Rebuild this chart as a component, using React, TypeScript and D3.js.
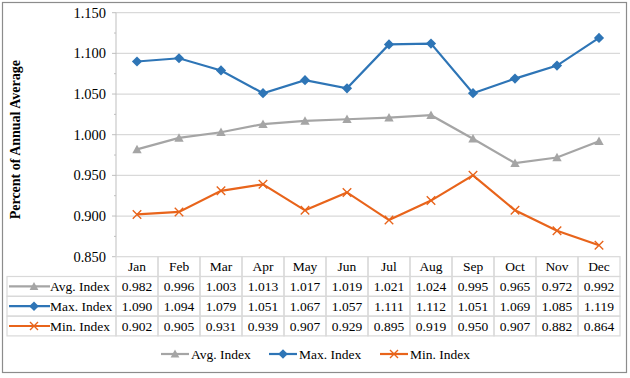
import { useEffect, useRef } from 'react';
import * as d3 from 'd3';

const months = ['Jan', 'Feb', 'Mar', 'Apr', 'May', 'Jun', 'Jul', 'Aug', 'Sep', 'Oct', 'Nov', 'Dec'];
const avgIndex = [0.982, 0.996, 1.003, 1.013, 1.017, 1.019, 1.021, 1.024, 0.995, 0.965, 0.972, 0.992];
const maxIndex = [1.090, 1.094, 1.079, 1.051, 1.067, 1.057, 1.111, 1.112, 1.051, 1.069, 1.085, 1.119];
const minIndex = [0.902, 0.905, 0.931, 0.939, 0.907, 0.929, 0.895, 0.919, 0.950, 0.907, 0.882, 0.864];
const yTicks = [0.85, 0.9, 0.95, 1.0, 1.05, 1.1, 1.15];

const seriesList = [
  { name: 'Avg. Index', values: avgIndex, color: '#A5A5A5', marker: 'triangle' },
  { name: 'Max. Index', values: maxIndex, color: '#2E75B6', marker: 'diamond' },
  { name: 'Min. Index', values: minIndex, color: '#E8641B', marker: 'x' },
];

const App = () => {
  const chartRef = useRef<HTMLDivElement>(null);

  useEffect(() => {
    document.body.style.margin = '0';
    if (!chartRef.current) return;
    d3.select(chartRef.current).selectAll('svg').remove();

    const W = 630;
    const H = 378;
    const plotLeft = 116;
    const plotRight = 620;
    const plotTop = 12.7;
    const plotBottom = 256.7;
    const rowH = 19.8;
    const tableLeft = 7;
    const font = 'Liberation Serif';

    const svg = d3.select(chartRef.current)
      .append('svg')
      .attr('width', W)
      .attr('height', H)
      .attr('font-family', font)
      .style('display', 'block');

    svg.append('rect').attr('width', W).attr('height', H).attr('fill', 'white');
    // outer frame
    svg.append('rect')
      .attr('x', 2.5).attr('y', 2.5)
      .attr('width', 624).attr('height', 370)
      .attr('fill', 'none')
      .attr('stroke', '#8c8c8c')
      .attr('stroke-width', 1.2);

    const x = d3.scaleBand().domain(months).range([plotLeft, plotRight]);
    const y = d3.scaleLinear().domain([0.85, 1.15]).range([plotBottom, plotTop]);
    const cx = (m: string) => (x(m) as number) + x.bandwidth() / 2;

    // gridlines
    svg.append('g')
      .selectAll('line')
      .data(yTicks.slice(1))
      .enter()
      .append('line')
      .attr('x1', plotLeft).attr('x2', plotRight)
      .attr('y1', d => y(d)).attr('y2', d => y(d))
      .attr('stroke', '#d9d9d9')
      .attr('stroke-width', 1.2);

    // y axis
    const axis = svg.append('g');
    axis.append('line')
      .attr('x1', plotLeft).attr('x2', plotLeft)
      .attr('y1', plotTop).attr('y2', plotBottom)
      .attr('stroke', '#bfbfbf');
    axis.selectAll('.major')
      .data(yTicks)
      .enter()
      .append('line')
      .attr('x1', plotLeft - 4).attr('x2', plotLeft)
      .attr('y1', d => y(d)).attr('y2', d => y(d))
      .attr('stroke', '#bfbfbf');
    axis.selectAll('.minor')
      .data(yTicks.slice(1).map(d => d - 0.025))
      .enter()
      .append('line')
      .attr('x1', plotLeft - 2).attr('x2', plotLeft)
      .attr('y1', d => y(d)).attr('y2', d => y(d))
      .attr('stroke', '#bfbfbf');
    axis.selectAll('text')
      .data(yTicks)
      .enter()
      .append('text')
      .attr('x', plotLeft - 10)
      .attr('y', d => y(d))
      .attr('dy', '0.35em')
      .attr('text-anchor', 'end')
      .attr('font-family', font)
      .attr('font-size', 14.5)
      .attr('fill', '#000')
      .text(d => d3.format('.3f')(d));

    // y axis title
    svg.append('text')
      .attr('transform', `translate(19.5, ${(plotTop + plotBottom) / 2 + 5}) rotate(-90)`)
      .attr('text-anchor', 'middle')
      .attr('font-family', font)
      .attr('font-size', 14)
      .attr('font-weight', 'bold')
      .text('Percent of Annual Average');

    const drawMarker = (g: any, type: string, px: number, py: number, color: string, s: number) => {
      if (type === 'triangle') {
        g.append('path')
          .attr('d', `M${px},${py - s * 0.55}L${px + s * 0.55},${py + s * 0.45}L${px - s * 0.55},${py + s * 0.45}Z`)
          .attr('fill', color);
      } else if (type === 'diamond') {
        g.append('path')
          .attr('d', `M${px},${py - s * 0.6}L${px + s * 0.6},${py}L${px},${py + s * 0.6}L${px - s * 0.6},${py}Z`)
          .attr('fill', color);
      } else {
        const r = s * 0.5;
        g.append('path')
          .attr('d', `M${px - r},${py - r}L${px + r},${py + r}M${px - r},${py + r}L${px + r},${py - r}`)
          .attr('stroke', color)
          .attr('stroke-width', 1.4)
          .attr('fill', 'none');
      }
    };

    // series lines + markers
    seriesList.forEach(s => {
      const line = d3.line<number>()
        .x((_, i) => cx(months[i]))
        .y(d => y(d));
      const g = svg.append('g');
      g.append('path')
        .datum(s.values)
        .attr('d', line)
        .attr('fill', 'none')
        .attr('stroke', s.color)
        .attr('stroke-width', 2.2);
      s.values.forEach((v, i) => drawMarker(g, s.marker, cx(months[i]), y(v), s.color, 8.5));
    });

    // data table
    const table = svg.append('g').attr('font-family', font).attr('font-size', 13.5);
    const gridColor = '#d9d9d9';
    // header
    months.forEach(m => {
      table.append('rect')
        .attr('x', x(m) as number).attr('y', plotBottom)
        .attr('width', x.bandwidth()).attr('height', rowH)
        .attr('fill', 'none').attr('stroke', gridColor).attr('stroke-width', 1.2);
      table.append('text')
        .attr('x', cx(m)).attr('y', plotBottom + rowH / 2)
        .attr('dy', '0.35em')
        .attr('text-anchor', 'middle')
        .text(m);
    });
    seriesList.forEach((s, r) => {
      const ry = plotBottom + rowH * (r + 1);
      table.append('rect')
        .attr('x', tableLeft).attr('y', ry)
        .attr('width', plotLeft - tableLeft).attr('height', rowH)
        .attr('fill', 'none').attr('stroke', gridColor).attr('stroke-width', 1.2);
      const lg = table.append('g');
      lg.append('line')
        .attr('x1', tableLeft + 2).attr('x2', tableLeft + 43)
        .attr('y1', ry + rowH / 2).attr('y2', ry + rowH / 2)
        .attr('stroke', s.color).attr('stroke-width', 2.2);
      drawMarker(lg, s.marker, tableLeft + 27, ry + rowH / 2, s.color, 8);
      table.append('text')
        .attr('x', tableLeft + 43).attr('y', ry + rowH / 2)
        .attr('dy', '0.35em')
        .text(s.name);
      s.values.forEach((v, i) => {
        const m = months[i];
        table.append('rect')
          .attr('x', x(m) as number).attr('y', ry)
          .attr('width', x.bandwidth()).attr('height', rowH)
          .attr('fill', 'none').attr('stroke', gridColor).attr('stroke-width', 1.2);
        table.append('text')
          .attr('x', cx(m)).attr('y', ry + rowH / 2)
          .attr('dy', '0.35em')
          .attr('text-anchor', 'middle')
          .text(d3.format('.3f')(v));
      });
    });

    // legend
    const legendX = [161, 269, 380];
    const legendY = 354;
    seriesList.forEach((s, i) => {
      const lg = svg.append('g');
      lg.append('line')
        .attr('x1', legendX[i]).attr('x2', legendX[i] + 28)
        .attr('y1', legendY).attr('y2', legendY)
        .attr('stroke', s.color).attr('stroke-width', 2.2);
      drawMarker(lg, s.marker, legendX[i] + 14, legendY, s.color, 8);
      lg.append('text')
        .attr('x', legendX[i] + 30).attr('y', legendY)
        .attr('dy', '0.35em')
        .attr('font-family', font)
        .attr('font-size', 13.5)
        .text(s.name);
    });
  }, []);

  return <div ref={chartRef} style={{ width: 630, height: 378 }}></div>;
};

export default App;
